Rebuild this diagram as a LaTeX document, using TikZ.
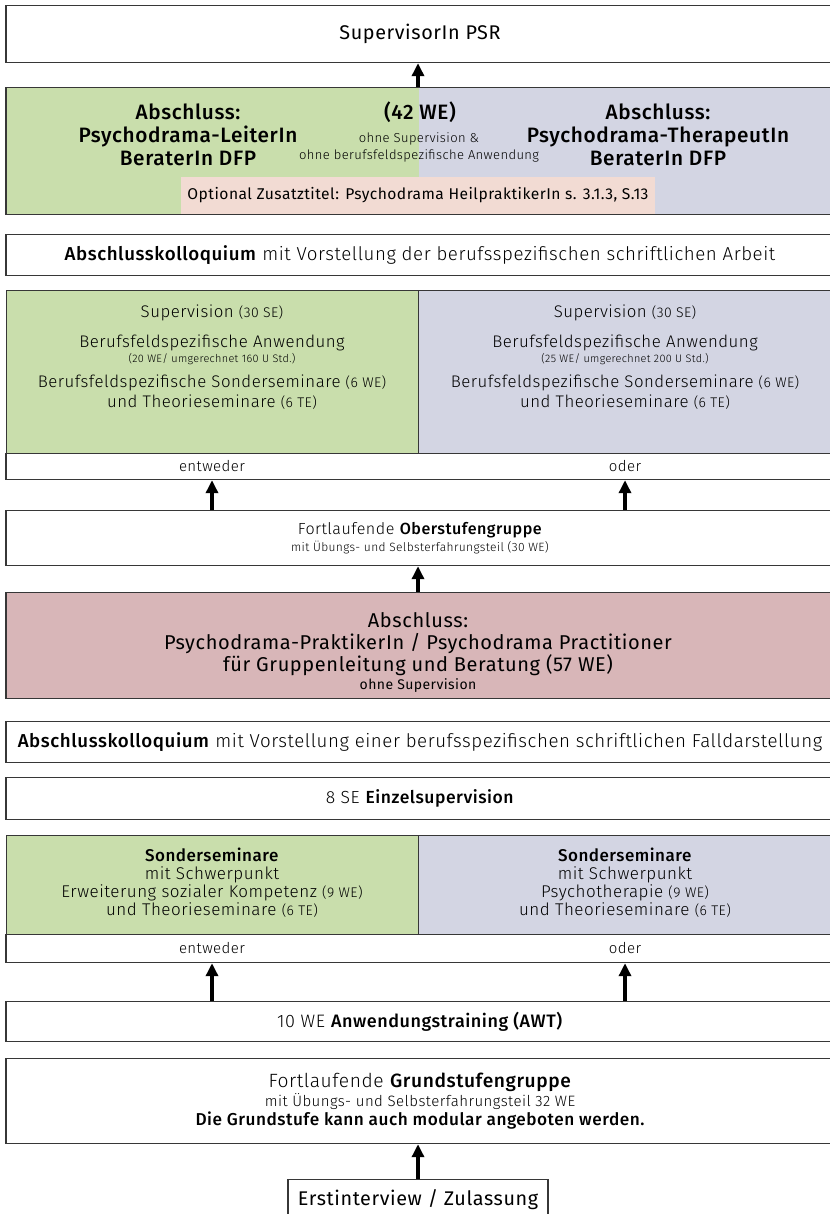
\documentclass[tikz,border=0pt]{standalone}
\usepackage{fontspec}
\setmainfont{Fira Sans Light}[BoldFont={Fira Sans Medium},LetterSpace=3]
\newfontfamily\buch{Fira Sans}[LetterSpace=3]
\usetikzlibrary{positioning,arrows.meta}
\definecolor{gruen}{RGB}{201,222,172}
\definecolor{blaugrau}{RGB}{211,213,227}
\definecolor{lachs}{RGB}{242,219,211}
\definecolor{altrosa}{RGB}{216,182,184}
\definecolor{rand}{RGB}{55,55,55}
\newcommand{\fs}[2]{\fontsize{#1}{#2}\selectfont}

\begin{document}
\begin{tikzpicture}[x=1pt,y=-1pt,
	stufe/.style={draw=rand,line width=1.2pt,minimum width=828pt,inner sep=0pt,anchor=north},
	halb/.style={draw=rand,line width=1.2pt,minimum width=412pt,inner sep=0pt,anchor=north west},
	txt/.style={align=center,inner sep=0pt},
	pfeil/.style={-{Triangle[length=13pt,width=12pt]},line width=3.5pt}]
	\useasboundingbox (0,0) rectangle (829,1214);

	\node[stufe,minimum height=57pt,font=\buch\fs{19.8}{22}] (supervisor) at (420,5) {SupervisorIn PSR};

	\node[halb,draw=none,fill=gruen,minimum width=414pt,minimum height=127pt] (leiterfeld) at (6,87) {};
	\node[halb,draw=none,fill=blaugrau,minimum width=416pt,minimum height=127pt] (therapeutfeld) at (418,87) {};
	\node[fill=lachs,inner sep=0pt,minimum width=474pt,minimum height=37pt,anchor=south,font=\buch\fs{15.6}{17}] (zusatz) at (418,214) {Optional Zusatztitel: Psychodrama HeilpraktikerIn s. 3.1.3, S.13};
	\node[stufe,minimum height=127pt] (abschluss) at (420,87) {};
	\node[txt,font={\bfseries\fs{20.8}{23}}] (leiter) at (188,135) {Abschluss:\\Psychodrama-LeiterIn\\BeraterIn DFP};
	\node[txt,font={\bfseries\fs{20.8}{23}}] (therapeut) at (658,135) {Abschluss:\\Psychodrama-TherapeutIn\\BeraterIn DFP};
	\node[txt,font={\bfseries\fs{20.8}{23}}] (we) at (420,112) {(42 WE)};
	\node[txt,font=\fs{13}{17}] (ohne) at (419,147) {ohne Supervision \&\\ohne berufsfeldspezifische Anwendung};

	\node[stufe,minimum height=41pt,font=\fs{18.7}{21}] (kolloqA) at (420,234) {\textbf{Abschlusskolloquium} mit Vorstellung der berufsspezifischen schriftlichen Arbeit};

	\node[halb,fill=gruen,minimum height=163pt] (supfeldL) at (6,290) {};
	\node[halb,fill=blaugrau,minimum width=416pt,minimum height=163pt] (supfeldR) at (418,290) {};
	\node[stufe,minimum height=26pt] (weicheA) at (420,453) {};
	\node[txt,font=\fs{16.8}{20}] (supL1) at (212,313) {Supervision {\fs{14}{16}(30 SE)}};
	\node[txt,font=\fs{16.8}{15}] (supL2) at (212,350) {Berufsfeldspezifische Anwendung\\{\fs{10.9}{12}(20 WE/ umgerechnet 160 U Std.)}};
	\node[txt,font=\fs{16.8}{20}] (supL3) at (212,392) {Berufsfeldspezifische Sonderseminare {\fs{14}{16}(6 WE)}\\und Theorieseminare {\fs{14}{16}(6 TE)}};
	\node[txt,font=\fs{16.8}{20}] (supR1) at (625,313) {Supervision {\fs{14}{16}(30 SE)}};
	\node[txt,font=\fs{16.8}{15}] (supR2) at (625,350) {Berufsfeldspezifische Anwendung\\{\fs{10.9}{12}(25 WE/ umgerechnet 200 U Std.)}};
	\node[txt,font=\fs{16.8}{20}] (supR3) at (625,392) {Berufsfeldspezifische Sonderseminare {\fs{14}{16}(6 WE)}\\und Theorieseminare {\fs{14}{16}(6 TE)}};
	\node[txt,font=\fs{15}{18}] (entwA) at (212,466) {entweder};
	\node[txt,font=\fs{15}{18}] (oderA) at (625,466) {oder};

	\node[stufe,minimum height=55pt,align=center,font=\fs{16.1}{17}] (oberstufe) at (420,510) {Fortlaufende \textbf{Oberstufengruppe}\\{\fs{12}{13}mit Übungs- und Selbsterfahrungsteil (30 WE)}};

	\node[stufe,fill=altrosa,minimum height=106pt] (praktiker) at (420,592) {};
	\node[txt,font=\buch\fs{20}{22}] (praktikerText) at (418,652) {Abschluss:\\Psychodrama-PraktikerIn / Psychodrama Practitioner\\für Gruppenleitung und Beratung (57 WE)\\[-4pt]{\fs{14}{16}ohne Supervision}};

	\node[stufe,minimum height=41pt,font=\fs{18.7}{21}] (kolloqB) at (420,721) {\textbf{Abschlusskolloquium} mit Vorstellung einer berufsspezifischen schriftlichen Falldarstellung};

	\node[stufe,minimum height=42pt,font=\fs{17.5}{20}] (einzel) at (420,777) {8 SE \textbf{Einzelsupervision}};

	\node[halb,fill=gruen,minimum height=99pt] (sonderfeldL) at (6,835) {};
	\node[halb,fill=blaugrau,minimum width=416pt,minimum height=99pt] (sonderfeldR) at (418,835) {};
	\node[stufe,minimum height=28pt] (weicheB) at (420,934) {};
	\node[txt,font=\fs{17}{18}] (sonderL) at (212,883) {\textbf{Sonderseminare}\\mit Schwerpunkt\\Erweiterung sozialer Kompetenz {\fs{14}{16}(9 WE)}\\und Theorieseminare {\fs{14}{16}(6 TE)}};
	\node[txt,font=\fs{17}{18}] (sonderR) at (625,883) {\textbf{Sonderseminare}\\mit Schwerpunkt\\Psychotherapie {\fs{14}{16}(9 WE)}\\und Theorieseminare {\fs{14}{16}(6 TE)}};
	\node[txt,font=\fs{15}{18}] (entwB) at (212,948) {entweder};
	\node[txt,font=\fs{15}{18}] (oderB) at (625,948) {oder};

	\node[stufe,minimum height=40pt,font=\fs{18}{21}] (awt) at (420,1001) {10 WE \textbf{Anwendungstraining (AWT)}};

	\node[stufe,minimum height=85pt,align=center,font=\fs{19.2}{19}] (grund) at (420,1058) {Fortlaufende \textbf{Grundstufengruppe}\\{\fs{15}{18}mit Übungs- und Selbsterfahrungsteil 32 WE}\\{\bfseries\fs{17.2}{19}Die Grundstufe kann auch modular angeboten werden.}};

	\node[draw=rand,line width=1.2pt,minimum width=260pt,minimum height=40pt,anchor=north,inner sep=0pt,font=\buch\fs{19.8}{22}] (erst) at (418,1179) {Erstinterview / Zulassung};

	\draw[pfeil] (erst.north) -- (erst.north |- grund.south);
	\draw[pfeil] (awt.north -| entwB) -- (weicheB.south -| entwB);
	\draw[pfeil] (awt.north -| oderB) -- (weicheB.south -| oderB);
	\draw[pfeil] (praktikerText.north |- praktiker.north) -- (praktikerText.north |- oberstufe.south);
	\draw[pfeil] (oberstufe.north -| entwA) -- (weicheA.south -| entwA);
	\draw[pfeil] (oberstufe.north -| oderA) -- (weicheA.south -| oderA);
	\draw[pfeil] (therapeutfeld.north west) -- (therapeutfeld.north west |- supervisor.south);
\end{tikzpicture}
\end{document}
